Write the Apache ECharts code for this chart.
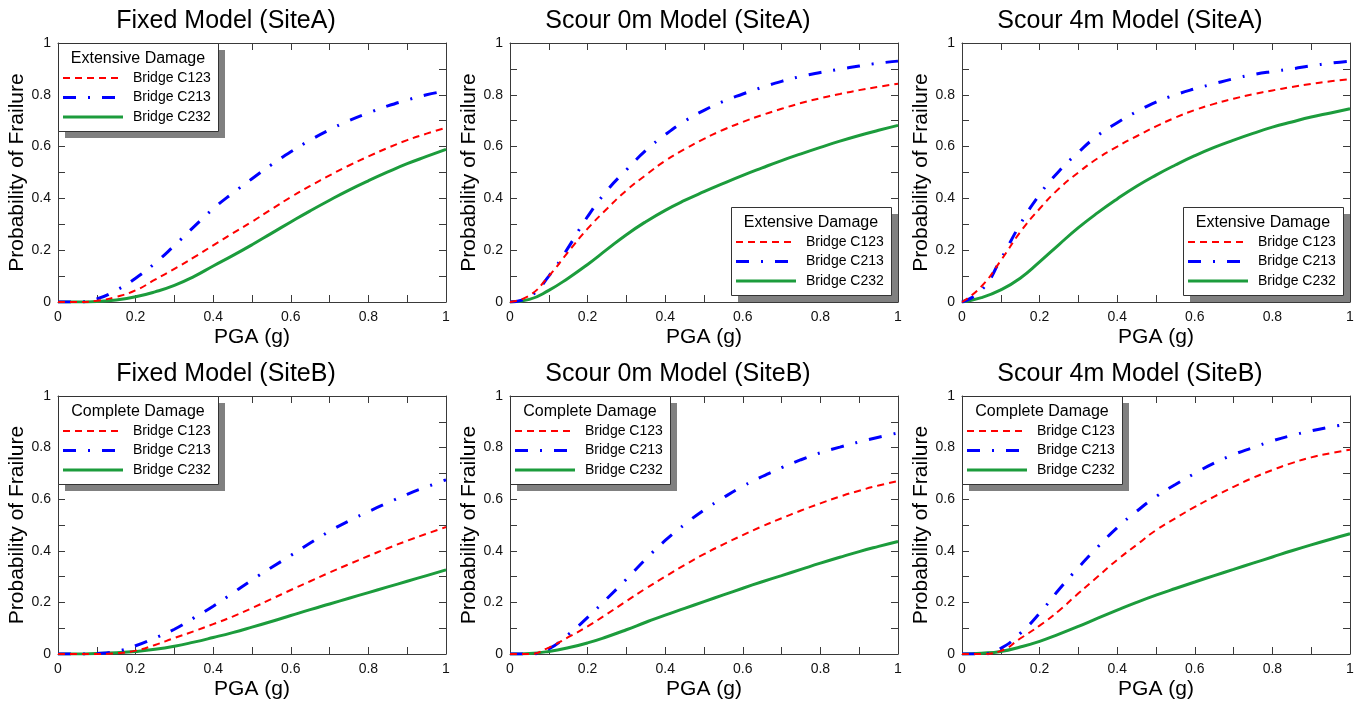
<!DOCTYPE html>
<html><head><meta charset="utf-8">
<script src="https://cdn.jsdelivr.net/npm/echarts@6/dist/echarts.min.js"></script>
<style>html,body{margin:0;padding:0;background:#fff}#c{width:1364px;height:701px}</style>
</head><body><div id="c"></div>
<script>
// ---------- data ----------
const pga = [0,0.05,0.1,0.15,0.2,0.25,0.3,0.35,0.4,0.45,0.5,0.55,0.6,0.65,0.7,0.75,0.8,0.85,0.9,0.95,1.0];
const panelTitles = ['Fixed Model (SiteA)','Scour 0m Model (SiteA)','Scour 4m Model (SiteA)',
                     'Fixed Model (SiteB)','Scour 0m Model (SiteB)','Scour 4m Model (SiteB)'];
const damageStates = ['Extensive Damage','Extensive Damage','Extensive Damage',
                      'Complete Damage','Complete Damage','Complete Damage'];
const bridgeNames = ['Bridge C123','Bridge C213','Bridge C232'];
const tickLabels = ['0','0.2','0.4','0.6','0.8','1'];

const fixA_C123 = [0,0,0.005,0.02,0.045,0.086,0.128,0.172,0.219,0.265,0.31,0.358,0.405,0.448,0.489,0.527,0.562,0.595,0.625,0.65,0.673];
const fixA_C213 = [0,0,0.012,0.045,0.092,0.15,0.218,0.29,0.36,0.42,0.476,0.53,0.58,0.625,0.665,0.70,0.73,0.757,0.78,0.80,0.815];
const fixA_C232 = [0,0,0.002,0.008,0.02,0.039,0.064,0.098,0.139,0.179,0.221,0.265,0.309,0.352,0.393,0.432,0.468,0.502,0.534,0.562,0.589];

const s0A_C123 = [0,0.025,0.1,0.193,0.283,0.36,0.431,0.49,0.545,0.59,0.63,0.665,0.695,0.722,0.746,0.768,0.787,0.803,0.818,0.831,0.843];
const s0A_C213 = [0,0.02,0.1,0.21,0.33,0.43,0.51,0.585,0.646,0.698,0.74,0.775,0.803,0.829,0.852,0.871,0.886,0.899,0.911,0.922,0.93];
const s0A_C232 = [0,0.01,0.045,0.092,0.145,0.203,0.26,0.31,0.354,0.392,0.426,0.458,0.489,0.518,0.546,0.572,0.597,0.621,0.643,0.663,0.682];

const s4A_C123 = [0,0.06,0.16,0.27,0.36,0.438,0.50,0.555,0.60,0.64,0.678,0.712,0.741,0.765,0.785,0.802,0.817,0.83,0.842,0.852,0.86];
const s4A_C213 = [0,0.045,0.165,0.30,0.415,0.505,0.578,0.643,0.692,0.735,0.772,0.80,0.823,0.843,0.862,0.878,0.89,0.90,0.912,0.922,0.93];
const s4A_C232 = [0,0.017,0.047,0.092,0.155,0.222,0.287,0.345,0.398,0.447,0.49,0.529,0.565,0.597,0.625,0.651,0.675,0.695,0.714,0.73,0.746];

const fixB_C123 = [0,0,0,0.003,0.013,0.035,0.062,0.088,0.116,0.145,0.178,0.213,0.248,0.282,0.316,0.348,0.38,0.41,0.439,0.466,0.492];
const fixB_C213 = [0,0,0.002,0.01,0.032,0.062,0.096,0.14,0.185,0.236,0.287,0.335,0.382,0.43,0.476,0.516,0.552,0.586,0.619,0.648,0.675];
const fixB_C232 = [0,0,0.002,0.005,0.01,0.018,0.03,0.046,0.064,0.083,0.104,0.126,0.149,0.172,0.194,0.216,0.238,0.26,0.282,0.304,0.326];

const s0B_C123 = [0,0,0.025,0.065,0.107,0.155,0.205,0.254,0.30,0.345,0.387,0.425,0.461,0.495,0.526,0.556,0.584,0.61,0.633,0.653,0.67];
const s0B_C213 = [0,0,0.02,0.075,0.142,0.215,0.29,0.368,0.44,0.502,0.558,0.606,0.65,0.688,0.722,0.753,0.78,0.802,0.822,0.84,0.857];
const s0B_C232 = [0,0.002,0.01,0.024,0.043,0.067,0.094,0.123,0.151,0.177,0.203,0.229,0.255,0.28,0.304,0.328,0.352,0.375,0.397,0.417,0.436];

const s4B_C123 = [0,0,0.012,0.06,0.11,0.168,0.235,0.30,0.365,0.423,0.48,0.526,0.57,0.61,0.648,0.683,0.713,0.74,0.762,0.778,0.792];
const s4B_C213 = [0,0,0.022,0.08,0.158,0.25,0.335,0.415,0.49,0.553,0.61,0.657,0.70,0.74,0.773,0.80,0.826,0.847,0.865,0.88,0.893];
const s4B_C232 = [0,0.003,0.01,0.027,0.049,0.077,0.107,0.139,0.17,0.2,0.228,0.254,0.279,0.304,0.328,0.352,0.376,0.4,0.423,0.445,0.466];

const panelValues = [
  [fixA_C123, fixA_C213, fixA_C232],
  [s0A_C123, s0A_C213, s0A_C232],
  [s4A_C123, s4A_C213, s4A_C232],
  [fixB_C123, fixB_C213, fixB_C232],
  [s0B_C123, s0B_C213, s0B_C232],
  [s4B_C123, s4B_C213, s4B_C232]
];

// ---------- layout / style ----------
const FONT = '"Liberation Sans", Arial, Helvetica, sans-serif';
const GL = [58, 510, 962], GT = [43, 396], GW = 388, GH = [259, 258];
const TITLE_TOP = [9, 362];
const legendAtBottomRight = [false, true, true, false, false, false];
const lineStyles = [
  {color: '#ff0000', width: 2, type: [7, 5]},
  {color: '#0000ff', width: 3, type: [13, 12, 2, 12]},
  {color: '#1c9c3c', width: 3, type: 'solid'}
];
const AX = '#3a3a3a';

const grids = [], xAxes = [], yAxes = [], series = [], titles = [], graphics = [];
for (let p = 0; p < 6; p++) {
  const col = p % 3, row = Math.floor(p / 3);
  const left = GL[col], top = GT[row], h = GH[row];
  grids.push({left: left, top: top, width: GW, height: h, show: false});
  const common = {
    type: 'value', min: 0, max: 1, interval: 0.2, gridIndex: p,
    axisLine: {show: true, onZero: false, lineStyle: {color: AX, width: 1}},
    axisTick: {show: true, inside: true, length: 7, lineStyle: {color: AX}},
    minorTick: {show: true, splitNumber: 2, length: 7, lineStyle: {color: AX}},
    splitLine: {show: false}
  };
  xAxes.push(Object.assign({}, common, {
    position: 'bottom',
    axisLabel: {show: true, fontSize: 14, color: '#111', fontFamily: FONT, margin: 8,
      formatter: v => tickLabels[Math.round(v / 0.2)]},
    name: 'PGA (g)', nameLocation: 'middle', nameGap: 25,
    nameTextStyle: {fontSize: 21, color: '#000', fontFamily: FONT}
  }));
  xAxes.push(Object.assign({}, common, {position: 'top', axisLabel: {show: false}}));
  yAxes.push(Object.assign({}, common, {
    position: 'left',
    axisLabel: {show: true, fontSize: 14, color: '#111', fontFamily: FONT, margin: 7,
      formatter: v => tickLabels[Math.round(v / 0.2)]},
    name: 'Probability of Frailure', nameLocation: 'middle', nameGap: 29,
    nameTextStyle: {fontSize: 21, color: '#000', fontFamily: FONT}
  }));
  yAxes.push(Object.assign({}, common, {position: 'right', axisLabel: {show: false}}));

  for (let s = 0; s < 3; s++) {
    const vals = panelValues[p][s];
    series.push({
      type: 'line', name: bridgeNames[s], xAxisIndex: 2 * p, yAxisIndex: 2 * p,
      data: pga.map((x, i) => [x, vals[i]]),
      smooth: 0.5, showSymbol: false, silent: true, clip: true,
      lineStyle: lineStyles[s], z: 3 + (2 - s)
    });
  }

  titles.push({
    text: panelTitles[p], left: left + 168, top: TITLE_TOP[row], textAlign: 'center', padding: 0,
    textStyle: {fontSize: 25, fontWeight: 'normal', color: '#000', fontFamily: FONT}
  });

  // legend box
  const bw = 160, bh = 88, sh = 7;
  const bx = legendAtBottomRight[p] ? left + GW - sh - bw : left;
  const by = legendAtBottomRight[p] ? top + h - sh - bh : top;
  graphics.push({type: 'rect', z: 100, silent: true,
    shape: {x: bx + sh, y: by + sh, width: bw, height: bh}, style: {fill: '#808080'}});
  graphics.push({type: 'rect', z: 101, silent: true,
    shape: {x: bx + 0.5, y: by + 0.5, width: bw, height: bh}, style: {fill: '#ffffff', stroke: '#333333', lineWidth: 1}});
  graphics.push({type: 'text', z: 102, silent: true, x: bx + 80, y: by + 16,
    style: {text: damageStates[p], fontSize: 16, fontFamily: FONT, fill: '#000',
      align: 'center', verticalAlign: 'middle', textAlign: 'center', textVerticalAlign: 'middle'}});
  const rowsY = [35, 54.5, 74];
  for (let s = 0; s < 3; s++) {
    const ls = lineStyles[s];
    graphics.push({type: 'line', z: 102, silent: true,
      shape: {x1: bx + 5, y1: by + rowsY[s], x2: bx + 65, y2: by + rowsY[s]},
      style: {stroke: ls.color, lineWidth: ls.width, lineDash: Array.isArray(ls.type) ? ls.type : null}});
    graphics.push({type: 'text', z: 102, silent: true, x: bx + 75, y: by + rowsY[s],
      style: {text: bridgeNames[s], fontSize: 14, fontFamily: FONT, fill: '#000',
        align: 'left', verticalAlign: 'middle', textAlign: 'left', textVerticalAlign: 'middle'}});
  }
}

const chart = echarts.init(document.getElementById('c'), null, {renderer: 'canvas'});
chart.setOption({
  animation: false,
  backgroundColor: '#ffffff',
  title: titles,
  grid: grids,
  xAxis: xAxes,
  yAxis: yAxes,
  series: series,
  graphic: {elements: graphics}
});
</script>
</body></html>
